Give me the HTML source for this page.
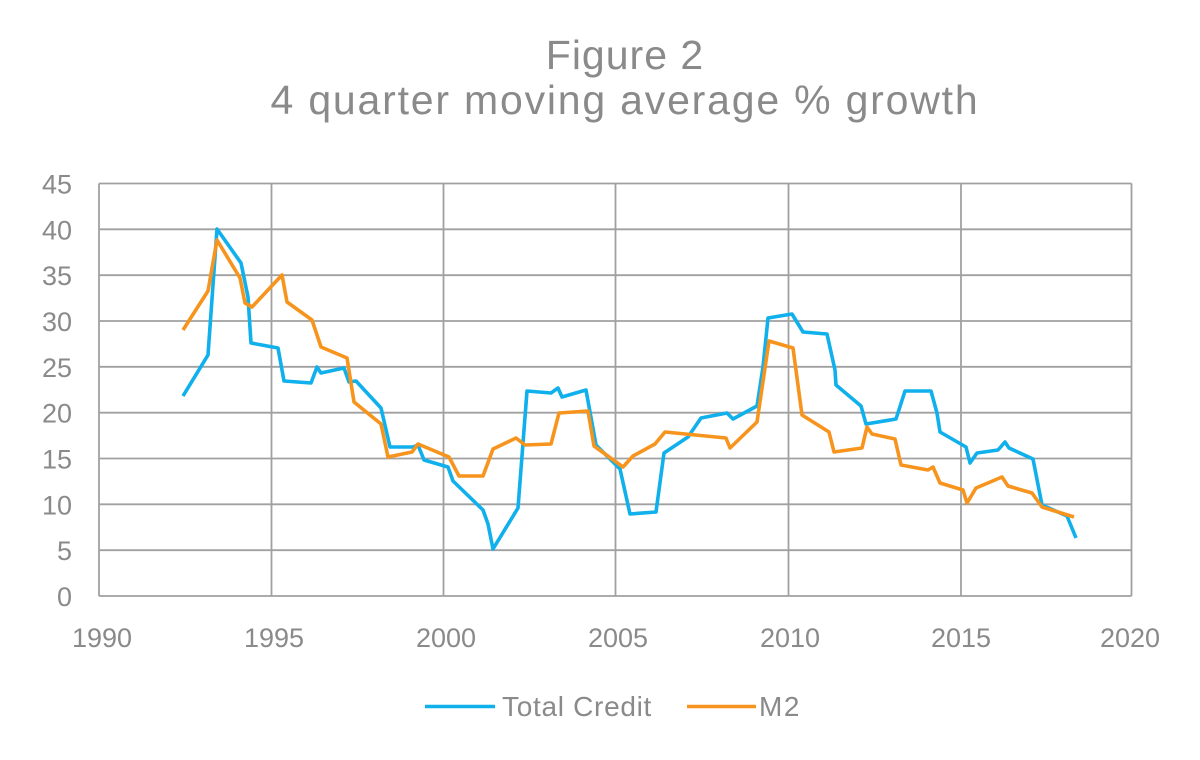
<!DOCTYPE html>
<html>
<head>
<meta charset="utf-8">
<style>
  html, body { margin: 0; padding: 0; background: #ffffff; }
  body { width: 1200px; height: 760px; overflow: hidden; }
  svg { display: block; }
  text { font-family: "Liberation Sans", "DejaVu Sans", sans-serif; fill: #8a8a8a; }
</style>
</head>
<body>
<svg width="1200" height="760" viewBox="0 0 1200 760" xmlns="http://www.w3.org/2000/svg">
  <rect x="0" y="0" width="1200" height="760" fill="#ffffff"/>

  <!-- Title -->
  <text x="625" y="69" text-anchor="middle" font-size="41" letter-spacing="1.0">Figure 2</text>
  <text x="625" y="114" text-anchor="middle" font-size="41" letter-spacing="1.8">4 quarter moving average % growth</text>

  <!-- Grid lines -->
  <g stroke="#a0a0a0" stroke-width="1.8" fill="none">
    <line x1="99" y1="183.5" x2="1131.5" y2="183.5"/>
    <line x1="99" y1="229.3" x2="1131.5" y2="229.3"/>
    <line x1="99" y1="275.2" x2="1131.5" y2="275.2"/>
    <line x1="99" y1="321" x2="1131.5" y2="321"/>
    <line x1="99" y1="366.8" x2="1131.5" y2="366.8"/>
    <line x1="99" y1="412.7" x2="1131.5" y2="412.7"/>
    <line x1="99" y1="458.5" x2="1131.5" y2="458.5"/>
    <line x1="99" y1="504.3" x2="1131.5" y2="504.3"/>
    <line x1="99" y1="550.2" x2="1131.5" y2="550.2"/>
    <line x1="99" y1="596" x2="1131.5" y2="596"/>

    <line x1="99" y1="183.5" x2="99" y2="596"/>
    <line x1="271.5" y1="183.5" x2="271.5" y2="596"/>
    <line x1="443.5" y1="183.5" x2="443.5" y2="596"/>
    <line x1="615.5" y1="183.5" x2="615.5" y2="596"/>
    <line x1="788.5" y1="183.5" x2="788.5" y2="596"/>
    <line x1="961" y1="183.5" x2="961" y2="596"/>
    <line x1="1131.5" y1="183.5" x2="1131.5" y2="596"/>
  </g>

  <!-- Y tick labels -->
  <g font-size="27" text-anchor="end">
    <text x="72" y="193.5">45</text>
    <text x="72" y="239.3">40</text>
    <text x="72" y="285.2">35</text>
    <text x="72" y="331">30</text>
    <text x="72" y="376.8">25</text>
    <text x="72" y="422.7">20</text>
    <text x="72" y="468.5">15</text>
    <text x="72" y="514.3">10</text>
    <text x="72" y="560.2">5</text>
    <text x="72" y="606">0</text>
  </g>

  <!-- X tick labels -->
  <g font-size="27" text-anchor="middle">
    <text x="102" y="647">1990</text>
    <text x="274" y="647">1995</text>
    <text x="446" y="647">2000</text>
    <text x="618" y="647">2005</text>
    <text x="790" y="647">2010</text>
    <text x="961" y="647">2015</text>
    <text x="1130" y="647">2020</text>
  </g>

  <!-- Total Credit (blue) -->
  <polyline fill="none" stroke="#0fb0ec" stroke-width="3.6" stroke-linejoin="round" stroke-linecap="butt"
    points="183,396 208,355 217,229 241,263 248,297 251,343 278,348 284,381 311,383 317,367 321,373 344,368 349,382 356,381 381,408 390,447 413,447 418,445 424,460 448,467 453,481 483,510 488,524 493,549 518,508 527,391 551,393 558,388 562,397 586,390 596,445 620,469 630,514 656,512 664,453 688,437 701,418 727,413 733,419 757,406 763,367 768,318 792,314 803,332 827,334 835,370 836,385 861,406 866,424 896,419 905,391 931,391 937,413 940,432 966,447 970,463 977,453 998,450 1005,442 1009,448 1033,459 1042,505 1067,516 1076,538"/>

  <!-- M2 (orange) -->
  <polyline fill="none" stroke="#f7941d" stroke-width="3.6" stroke-linejoin="round" stroke-linecap="butt"
    points="183,330 208,291 217,240 240,278 245,303 252,307 282,275 287,302 312,320 321,347 347,358 354,402 381,424 388,457 412,452 418,444 449,457 459,476 483,476 493,449 516,438 525,445 551,444 559,413 588,411 594,446 623,467 633,456 655,444 665,432 726,438 730,448 757,422 769,341 793,348 802,415 829,432 834,452 862,448 867,427 872,434 895,439 901,465 928,470 933,467 940,483 963,490 967,503 976,488 1002,477 1008,486 1032,493 1042,507 1074,517"/>

  <!-- Legend -->
  <line x1="425" y1="706.5" x2="495" y2="706.5" stroke="#0fb0ec" stroke-width="3.6"/>
  <text x="502" y="716" font-size="28" letter-spacing="0.7">Total Credit</text>
  <line x1="687" y1="706.5" x2="756" y2="706.5" stroke="#f7941d" stroke-width="3.6"/>
  <text x="759" y="716" font-size="28" letter-spacing="1.5">M2</text>
</svg>
</body>
</html>
